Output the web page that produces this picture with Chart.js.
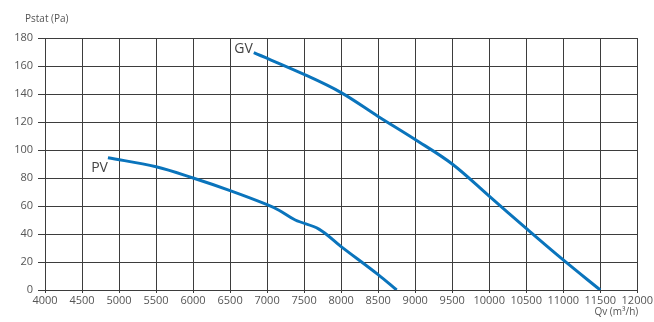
<!DOCTYPE html>
<html>
<head>
<meta charset="utf-8">
<script src="https://cdn.jsdelivr.net/npm/chart.js@4"></script>
<style>
  html, body { margin: 0; padding: 0; background: #fff; }
  #wrap { width: 654px; height: 322px; }
</style>
</head>
<body>
<div id="wrap"><canvas id="fanChart" width="654" height="322"></canvas></div>
<script>
// data
const pvFlow = [4850, 5500, 6000, 6500, 7000, 7160, 7380, 7700, 8000, 8500, 8750];
const pvPressure = [94.5, 88, 80, 71, 61, 57, 50, 43.5, 31, 11, 0];
const gvFlow = [6820, 7500, 8000, 8500, 9000, 9500, 10000, 10500, 11000, 11500];
const gvPressure = [169.5, 154, 141, 124, 107.5, 90, 67, 44, 21.5, 0];
const seriesNames = ['PV', 'GV'];
const xTicks = { min: 4000, max: 12000, step: 500 };
const yTicks = { min: 0, max: 180, step: 20 };

const toPoints = (xs, ys) => xs.map((x, i) => ({ x: x, y: ys[i] }));

const textColor = '#555';
const gridColor = '#3d3d3d';

// curve names + axis captions
const labelsPlugin = {
  id: 'curveLabels',
  afterDatasetsDraw(chart) {
    const ctx = chart.ctx;
    const area = chart.chartArea;
    ctx.save();
    ctx.fillStyle = '#444';
    ctx.font = '14px "Open Sans", sans-serif';
    chart.data.datasets.forEach((ds, i) => {
      const first = chart.getDatasetMeta(i).data[0];
      if (!first) return;
      ctx.textAlign = 'right';
      if (ds.label === 'GV') {
        ctx.textBaseline = 'bottom';
        ctx.fillText(ds.label, first.x - 1, first.y + 3);
      } else {
        ctx.textBaseline = 'top';
        ctx.fillText(ds.label, first.x, first.y + 3);
      }
    });
    ctx.fillStyle = textColor;
    ctx.font = '10px "Open Sans", sans-serif';
    ctx.textAlign = 'left';
    ctx.textBaseline = 'middle';
    ctx.fillText('Pstat (Pa)', 25, area.top - 19);
    ctx.textAlign = 'right';
    ctx.fillText('Qv (m³/h)', area.right + 1, area.bottom + 22);
    ctx.restore();
  }
};

const ctx = document.getElementById('fanChart').getContext('2d');
const fanChart = new Chart(ctx, {
  type: 'line',
  data: {
    datasets: [
      {
        label: seriesNames[0],
        data: toPoints(pvFlow, pvPressure),
        borderColor: '#0a74bc',
        borderWidth: 3,
        pointRadius: 0,
        fill: false,
        tension: 0.35
      },
      {
        label: seriesNames[1],
        data: toPoints(gvFlow, gvPressure),
        borderColor: '#0a74bc',
        borderWidth: 3,
        pointRadius: 0,
        fill: false,
        tension: 0.35
      }
    ]
  },
  options: {
    responsive: false,
    animation: false,
    layout: { padding: { top: 38, right: 15, left: 0, bottom: 0 } },
    plugins: {
      legend: { display: false },
      tooltip: { enabled: false }
    },
    scales: {
      x: {
        type: 'linear',
        min: xTicks.min,
        max: xTicks.max,
        grid: { color: gridColor, lineWidth: 1, tickLength: 3 },
        border: { color: gridColor },
        ticks: {
          stepSize: xTicks.step,
          color: textColor,
          font: { size: 11, family: '"Open Sans", sans-serif' },
          padding: 1,
          maxRotation: 0,
          autoSkip: false,
          callback: (v) => String(v)
        },
        afterFit(scale) { scale.height = 32; }
      },
      y: {
        type: 'linear',
        min: yTicks.min,
        max: yTicks.max,
        grid: { color: gridColor, lineWidth: 1, tickLength: 7 },
        border: { color: gridColor },
        ticks: {
          stepSize: yTicks.step,
          color: textColor,
          font: { size: 11, family: '"Open Sans", sans-serif' },
          padding: 5,
          callback: (v) => String(v)
        },
        afterFit(scale) { scale.width = 45; }
      }
    }
  },
  plugins: [labelsPlugin]
});
</script>
</body>
</html>
